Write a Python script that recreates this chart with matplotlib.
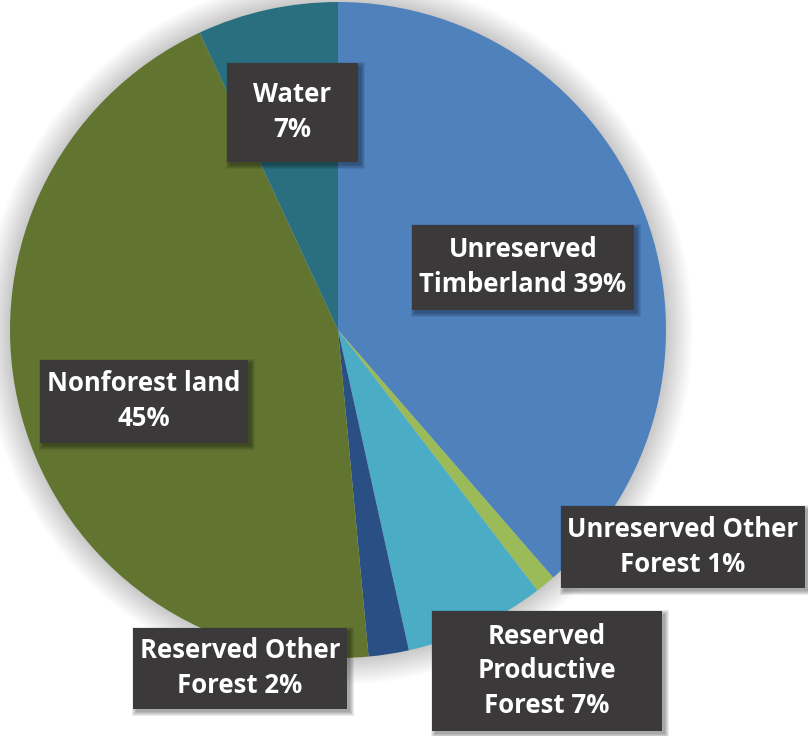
import matplotlib.pyplot as plt
from matplotlib.patches import Circle, Rectangle

# Land area shares, clockwise from 12 o'clock
categories = ["Unreserved\nTimberland", "Unreserved Other\nForest",
              "Reserved\nProductive\nForest", "Reserved Other\nForest",
              "Nonforest land", "Water"]
shares = [39, 1, 7, 2, 45, 7]
colors = ["#4f81bd", "#9bbb59", "#4bacc6", "#2a4f85", "#617530", "#2a6f80"]

# Label boxes: centre (x, y from top) and size in pixels
box_centers = [(523, 267), (683, 547), (547, 671), (240, 668), (144, 401), (292, 112)]
box_sizes = [(222, 85), (244, 82), (230, 120), (214, 81), (208, 83), (131, 99)]

W, H = 808, 736
center = (338, H - 330)
radius = 328

fig = plt.figure(figsize=(W / 100, H / 100), dpi=100)
ax = fig.add_axes([0, 0, 1, 1])

# Soft outer shadow around the pie
for i in range(28):
    ax.add_patch(Circle(center, radius + i, color="k", alpha=0.009, lw=0, zorder=0))

ax.pie(shares, colors=colors, startangle=90, counterclock=False,
       center=center, radius=radius,
       wedgeprops=dict(linewidth=0), frame=False)

for name, v, (cx, cy), (bw, bh) in zip(categories, shares, box_centers, box_sizes):
    sep = " " if "\n" in name else "\n"
    label = f"{name}{sep}{v}%"
    y = H - cy
    x0, y0 = cx - bw / 2, y - bh / 2
    # blurred drop shadow, offset right and down
    for k in range(5):
        ax.add_patch(Rectangle((x0 + 3 - k, y0 - 3 - k), bw + 2 * k, bh + 2 * k,
                               facecolor="k", edgecolor="none", alpha=0.08, zorder=2))
    ax.add_patch(Rectangle((x0, y0), bw, bh, facecolor="#3b3939",
                           edgecolor="none", zorder=3))
    ax.text(cx, y, label, ha="center", va="center", color="white",
            fontsize=18.5, fontweight="bold", family="Open Sans",
            linespacing=1.38, zorder=4)

ax.set_xlim(0, W)
ax.set_ylim(0, H)
ax.set_aspect("equal")
ax.axis("off")

fig.savefig("out.png", dpi=100, facecolor="white")
